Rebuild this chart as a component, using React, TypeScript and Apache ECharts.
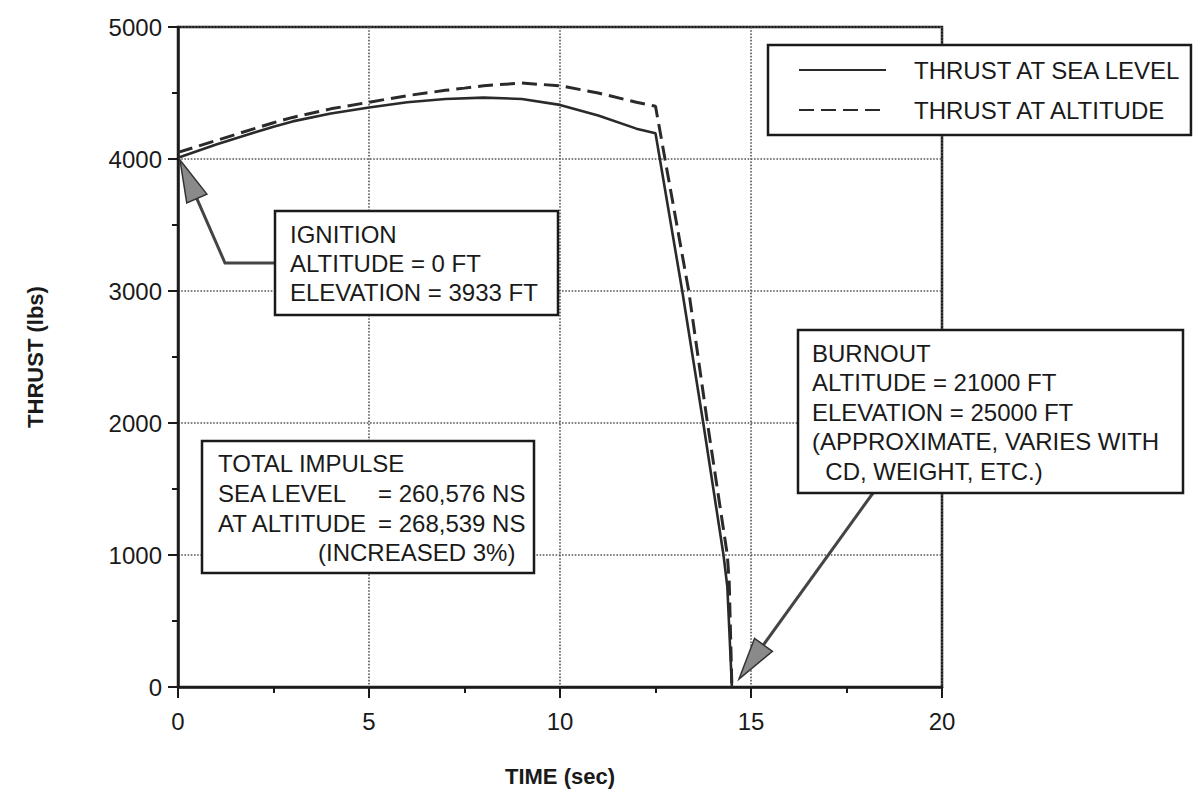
import React, { useEffect, useRef } from "react";
import * as echarts from "echarts";

// ---- data ----
const seaTime = [0, 1, 2, 2.5, 3, 4, 5, 6, 7, 8, 9, 10, 11, 12, 12.5, 13.2, 13.75, 14.28, 14.38, 14.5];
const seaThrust = [4010, 4110, 4200, 4245, 4285, 4345, 4390, 4430, 4455, 4465, 4455, 4410, 4330, 4230, 4195, 3000, 2000, 1000, 760, 0];
const altTime = [0, 1, 2, 2.5, 3, 4, 5, 6, 7, 7.5, 8, 9, 10, 11, 12, 12.5, 13.37, 13.86, 14.38, 14.43, 14.5];
const altThrust = [4050, 4140, 4230, 4275, 4315, 4380, 4430, 4480, 4520, 4537, 4555, 4575, 4555, 4500, 4430, 4400, 3000, 2000, 1000, 790, 0];
const seriesNames = ["THRUST AT SEA LEVEL", "THRUST AT ALTITUDE"];
const xTitle = "TIME (sec)";
const yTitle = "THRUST (lbs)";
const ignitionLines = ["IGNITION", "ALTITUDE = 0 FT", "ELEVATION = 3933 FT"];
const impulseLines = ["TOTAL IMPULSE", "SEA LEVEL", "AT ALTITUDE", "(INCREASED 3%)"];
const impulseValues = ["= 260,576 NS", "= 268,539 NS"];
const burnoutLines = ["BURNOUT", "ALTITUDE = 21000 FT", "ELEVATION = 25000 FT", "(APPROXIMATE, VARIES WITH", "  CD, WEIGHT, ETC.)"];

const FONT = '"Liberation Sans", Arial, Helvetica, sans-serif';
const INK = "#1a1a1a";

function head(tx: number, ty: number, fx: number, fy: number, len: number, half: number) {
  const dx = tx - fx, dy = ty - fy;
  const d = Math.hypot(dx, dy);
  const ux = dx / d, uy = dy / d;
  const bx = tx - ux * len, by = ty - uy * len;
  return {
    pts: [[tx, ty], [bx - uy * half, by + ux * half], [bx + uy * half, by - ux * half]],
    base: [bx + ux * 4, by + uy * 4],
  };
}

function txt(text: string, x: number, y: number, extra: any = {}) {
  return {
    type: "text",
    z: 110,
    style: {
      text, x, y,
      fontSize: 24, fontFamily: FONT, fill: INK,
      verticalAlign: "middle", textVerticalAlign: "middle",
      align: "left", textAlign: "left",
      ...extra,
    },
  };
}

function box(x1: number, y1: number, x2: number, y2: number) {
  return {
    type: "rect", z: 100,
    shape: { x: x1, y: y1, width: x2 - x1, height: y2 - y1 },
    style: { fill: "#fff", stroke: INK, lineWidth: 2.5 },
  };
}

export default function App() {
  const ref = useRef<HTMLDivElement>(null);
  useEffect(() => {
    if (!ref.current) return;
    const chart = echarts.init(ref.current, null, { renderer: "svg" });

    const ign = head(180, 160, 225, 263, 42, 11);
    const brn = head(739, 679, 873, 492, 42, 11);

    const graphic: any[] = [
      // ignition
      box(275, 211, 558, 315),
      ...ignitionLines.map((t, i) => txt(t, 290, 234 + i * 29)),
      { type: "polyline", z: 90, shape: { points: [[275, 263], [225, 263], ign.base] }, style: { stroke: "#444", lineWidth: 3, fill: null } },
      { type: "polygon", z: 91, shape: { points: ign.pts }, style: { fill: "#8a8a8a", stroke: "#333", lineWidth: 1.5 } },
      // impulse
      box(202, 441, 534, 573),
      txt(impulseLines[0], 218, 463),
      txt(impulseLines[1], 218, 493),
      txt(impulseValues[0], 378, 493),
      txt(impulseLines[2], 218, 523),
      txt(impulseValues[1], 378, 523),
      txt(impulseLines[3], 318, 552),
      // burnout
      box(798, 330, 1183, 493),
      ...burnoutLines.map((t, i) => txt(t, 812, 353 + i * 29.5)),
      { type: "line", z: 90, shape: { x1: 873, y1: 493, x2: brn.base[0], y2: brn.base[1] }, style: { stroke: "#444", lineWidth: 3 } },
      { type: "polygon", z: 91, shape: { points: brn.pts }, style: { fill: "#8a8a8a", stroke: "#333", lineWidth: 1.5 } },
    ];

    chart.setOption({
      animation: false,
      backgroundColor: "#fff",
      textStyle: { fontFamily: FONT },
      grid: { left: 178, top: 27, right: 256, bottom: 110, show: true, borderColor: INK, borderWidth: 2.5, backgroundColor: "transparent" },
      legend: {
        show: true,
        orient: "vertical",
        left: 768, top: 45,
        padding: [12, 8, 12, 30],
        itemGap: 14,
        itemWidth: 87, itemHeight: 14,
        backgroundColor: "#fff",
        borderColor: INK, borderWidth: 2.5, borderRadius: 0,
        itemStyle: { opacity: 0, borderWidth: 0 },
        textStyle: { fontSize: 24, color: INK, fontFamily: FONT, lineHeight: 26, padding: [0, 0, 0, 23] },
        data: seriesNames,
        z: 120,
      },
      xAxis: {
        type: "value", min: 0, max: 20, interval: 5,
        name: xTitle, nameLocation: "middle", nameGap: 78,
        nameTextStyle: { fontSize: 22, fontWeight: "bold", color: INK, fontFamily: FONT },
        axisLine: { show: true, onZero: false, lineStyle: { color: INK, width: 2.5 } },
        axisTick: { show: true, length: 11, lineStyle: { color: INK, width: 2 } },
        minorTick: { show: true, splitNumber: 2, length: 6, lineStyle: { color: INK, width: 2 } },
        axisLabel: { fontSize: 24, color: INK, margin: 22, fontFamily: FONT },
        splitLine: { show: true, lineStyle: { color: "#555", type: "dotted", width: 1.6 } },
      },
      yAxis: {
        type: "value", min: 0, max: 5000, interval: 1000,
        name: yTitle, nameLocation: "middle", nameGap: 132, nameRotate: 90,
        nameTextStyle: { fontSize: 22, fontWeight: "bold", color: INK, fontFamily: FONT },
        axisLine: { show: true, onZero: false, lineStyle: { color: INK, width: 2.5 } },
        axisTick: { show: true, length: 10, lineStyle: { color: INK, width: 2 } },
        minorTick: { show: true, splitNumber: 2, length: 6, lineStyle: { color: INK, width: 2 } },
        axisLabel: { fontSize: 24, color: INK, margin: 16, fontFamily: FONT, formatter: (v: number) => String(v) },
        splitLine: { show: true, lineStyle: { color: "#555", type: "dotted", width: 1.6 } },
      },
      series: [
        {
          name: seriesNames[0], type: "line", symbol: "none", showSymbol: false, z: 5,
          data: seaTime.map((t, i) => [t, seaThrust[i]]),
          lineStyle: { color: "#2a2a2a", width: 2.6, type: "solid" },
          itemStyle: { color: "#2a2a2a" },
        },
        {
          name: seriesNames[1], type: "line", symbol: "none", showSymbol: false, z: 4,
          data: altTime.map((t, i) => [t, altThrust[i]]),
          lineStyle: { color: "#2a2a2a", width: 3, type: [15, 7] },
          itemStyle: { color: "#2a2a2a" },
        },
      ],
      graphic,
    });
    return () => chart.dispose();
  }, []);
  return <div ref={ref} style={{ position: "fixed", left: 0, top: 0, width: 1198, height: 797, background: "#fff" }} />;
}
